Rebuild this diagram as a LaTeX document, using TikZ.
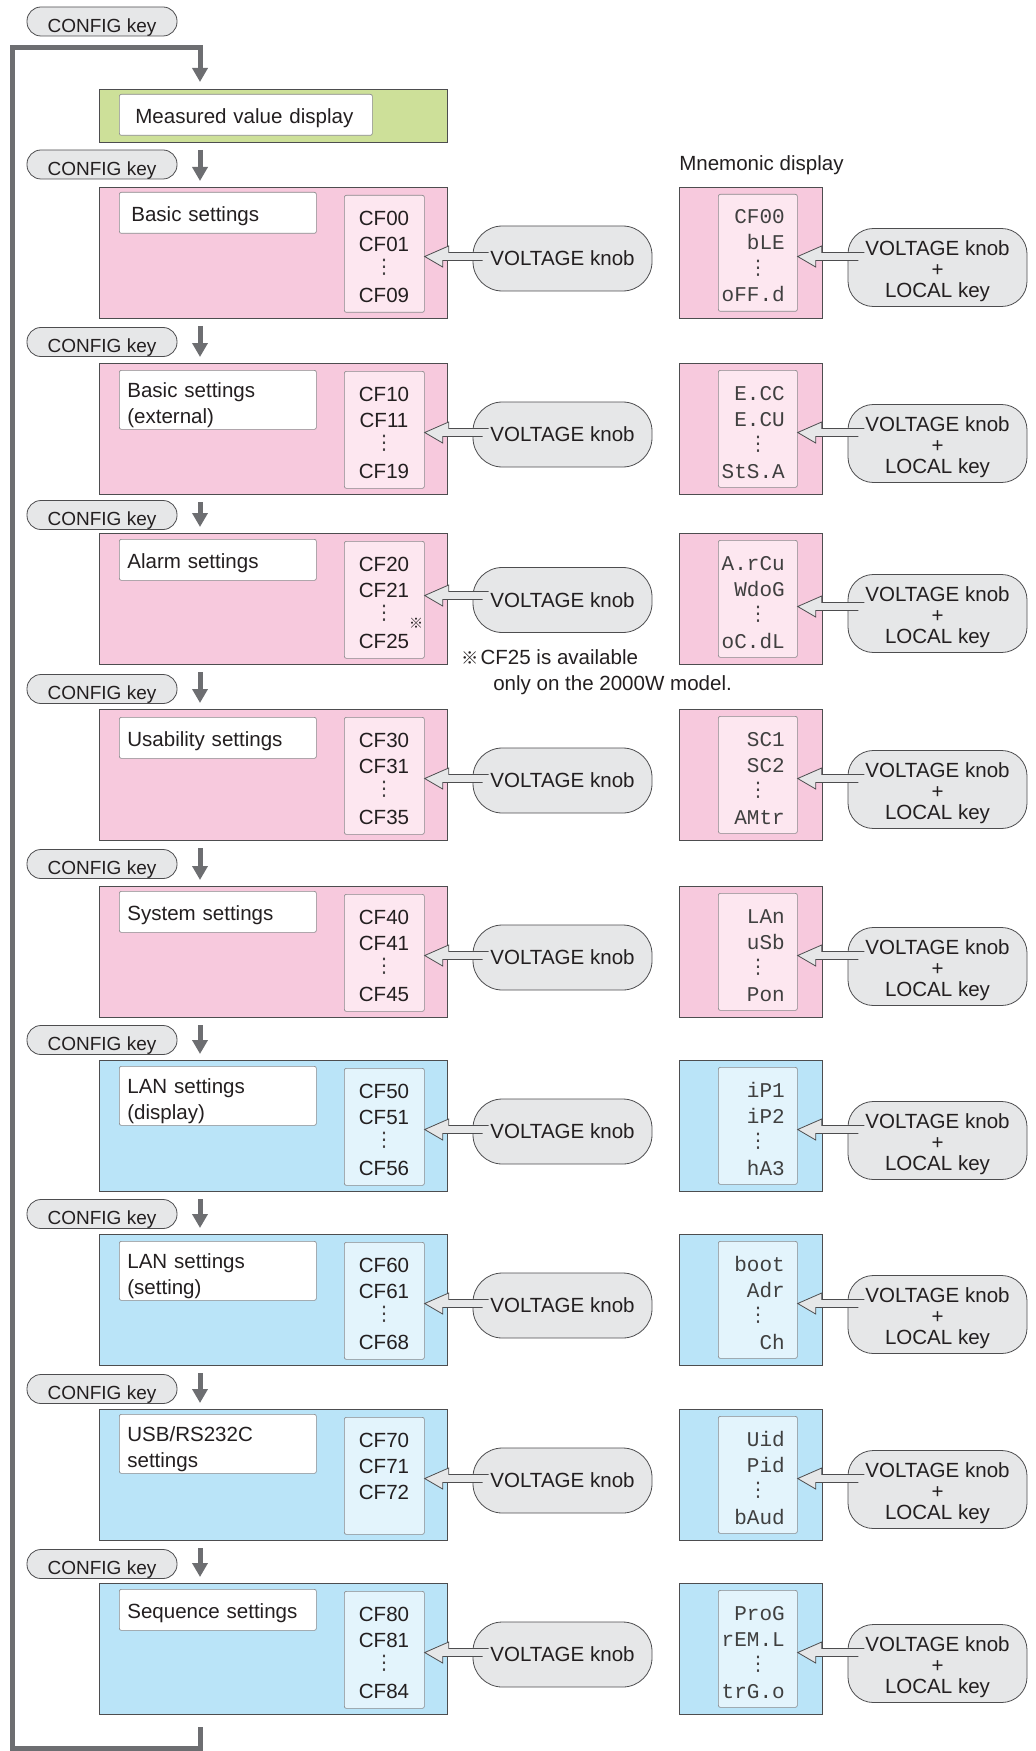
\documentclass[tikz,border=0pt]{standalone}
\usepackage{fontspec}
\setmainfont{Liberation Sans}
\newfontfamily\dejavu{DejaVu Sans}
\newfontfamily\segfont{Liberation Mono}
\newfontfamily\cjkf{Noto Sans CJK JP}
\usetikzlibrary{arrows.meta,calc}
\definecolor{txt}{HTML}{231F20}
\definecolor{linegray}{HTML}{6D6E71}
\definecolor{edge}{HTML}{4D4D4F}
\definecolor{thinedge}{HTML}{8A8A8C}
\definecolor{greenfill}{HTML}{CDE099}
\definecolor{pkmain}{HTML}{F7C9DD}
\definecolor{pklight}{HTML}{FDE7F0}
\definecolor{blmain}{HTML}{BAE4F8}
\definecolor{bllight}{HTML}{E3F4FC}
\definecolor{ovalfill}{HTML}{E6E7E8}
\newcommand\mainfs{\fontsize{15.4pt}{18pt}\selectfont}
\tikzset{
  every node/.style={text=txt, font=\mainfs, inner sep=0pt},
  mainbox/.style={draw=edge, line width=0.75pt, minimum width=261pt, minimum height=98.25pt, anchor=north west},
  greenbox/.style={draw=edge, line width=0.75pt, fill=greenfill, minimum width=261pt, minimum height=39.75pt, anchor=north west},
  titlebox/.style={draw=thinedge, line width=0.5pt, fill=white, rounded corners=1.5pt, anchor=north west, inner xsep=6pt, text width=135.75pt, align=left, minimum height=30.75pt, text height=12.5pt, text depth=0pt},
  titletwo/.style={titlebox, minimum height=44.25pt, font=\fontsize{15.4pt}{19.5pt}\selectfont, text height=15.5pt, text depth=19.5pt},
  cfbox/.style={draw=thinedge, line width=0.5pt, rounded corners=1.5pt, anchor=north west, minimum width=60pt, minimum height=87.75pt},
  mnbox/.style={draw=edge, line width=0.75pt, anchor=north west, minimum width=107.25pt, minimum height=98.25pt},
  mninner/.style={draw=thinedge, line width=0.5pt, rounded corners=1.5pt, anchor=north west, minimum width=59.25pt, minimum height=87.75pt},
  cft/.style={text height=11pt, text depth=0pt},
  dotsn/.style={font=\dejavu\fontsize{15pt}{15pt}\selectfont, text=txt!85},
  segt/.style={anchor=east, font=\segfont\fontsize{15.75pt}{16pt}\selectfont, text=black!75, text height=9pt, text depth=0pt},
  knob/.style={draw=edge, line width=0.6pt, fill=ovalfill, rounded corners=22pt, minimum width=134.25pt, minimum height=48.75pt, text height=11pt, text depth=0pt},
  knobtwo/.style={draw=edge, line width=0.6pt, fill=ovalfill, rounded corners=19pt, minimum width=134.25pt, minimum height=58.5pt, align=center, font=\fontsize{15.4pt}{15.75pt}\selectfont, text height=45.5pt, text depth=0pt},
  cfgkey/.style={draw=edge, line width=0.6pt, fill=ovalfill, rounded corners=10.5pt, minimum width=112.5pt, minimum height=21.75pt, font=\fontsize{14.25pt}{16pt}\selectfont, text height=16.2pt, text depth=0pt},
  downarr/.style={draw=linegray, line width=3.75pt, -{Triangle[width=11.25pt,length=10.5pt]}, shorten <=5.25pt, shorten >=4.5pt},
  loopline/.style={draw=linegray, line width=3.75pt, line join=miter, -{Triangle[width=11.25pt,length=10.5pt]}, shorten >=5.25pt},
  harrowst/.style={draw=edge, line width=0.6pt, fill=ovalfill, line join=miter}
}
\newcommand\harrow[2]{%
  \draw[harrowst] let \p1=(#1), \p2=(#2), \n1={(\x1-\x2)/0.75} in
    ($(\p2)+(\n1,-4)$) -- ++({18-\n1},0) -- ++(0,-6.5) -- (\p2) -- ++(18,10.5) -- ++(0,-6.5) -- ++({\n1-18},0);}
\newcommand\setrow[3]{%
  \node[mainbox, fill=#3main] (r#1) at (99,#2) {};
  \node[cfbox, fill=#3light] (c#1) at (344,#2+8) {};
  \node[mnbox, fill=#3main] (m#1) at (679,#2) {};
  \node[mninner, fill=#3light] (n#1) at (718,#2+7) {};}
\newcommand\cflist[5]{%
  \node[cft] (c#1a) at (384,#2+31) {#3};
  \node[cft] (c#1b) at (384,#2+57) {#4};
  \node[dotsn] (c#1d) at (384,#2+80) {⋮};
  \node[cft] (c#1c) at (384,#2+108) {#5};}
\newcommand\mnlist[5]{%
  \node[segt] (n#1a) at (785,#2+31) {#3};
  \node[segt] (n#1b) at (785,#2+57) {#4};
  \node[dotsn] (n#1d) at (758,#2+81) {⋮};
  \node[segt] (n#1c) at (785,#2+109) {#5};}
\newcommand\knobs[5]{%
  \node[knob] (vk#1) at (562.5,#3) {VOLTAGE knob};
  \node[knobtwo] (lk#1) at (937.5,#5) {VOLTAGE knob\\+\\LOCAL key};
  \coordinate (ka#1) at (0,#2);
  \coordinate (la#1) at (0,#4);
  \harrow{vk#1.west |- ka#1}{c#1.east |- ka#1}
  \harrow{lk#1.west |- la#1}{n#1.east |- la#1}}
\begin{document}
\begin{tikzpicture}[x=0.75pt,y=-0.75pt]
\useasboundingbox (0,0) rectangle (1035,1751);
\coordinate (ax) at (200,0);
% config keys
\node[cfgkey] (cfg0) at (102,21.5) {CONFIG key};
\node[cfgkey] (cfg1) at (102,164.5) {CONFIG key};
\node[cfgkey] (cfg2) at (102,342) {CONFIG key};
\node[cfgkey] (cfg3) at (102,515) {CONFIG key};
\node[cfgkey] (cfg4) at (102,689) {CONFIG key};
\node[cfgkey] (cfg5) at (102,864) {CONFIG key};
\node[cfgkey] (cfg6) at (102,1040) {CONFIG key};
\node[cfgkey] (cfg7) at (102,1214) {CONFIG key};
\node[cfgkey] (cfg8) at (102,1389) {CONFIG key};
\node[cfgkey] (cfg9) at (102,1564) {CONFIG key};
% green box
\node[greenbox] (gr) at (99,89) {};
\node[titlebox, text width=165.75pt, inner xsep=12pt] (gt) at (119,94) {Measured value display};
% rows
\setrow{1}{187}{pk}
\setrow{2}{363}{pk}
\setrow{3}{533}{pk}
\setrow{4}{709}{pk}
\setrow{5}{886}{pk}
\setrow{6}{1060}{bl}
\setrow{7}{1234}{bl}
\setrow{8}{1409}{bl}
\setrow{9}{1583}{bl}
% titles
\node[titlebox, inner xsep=9pt, text width=129.75pt] (t1) at (119,192) {Basic settings};
\node[titletwo] (t2) at (119,370) {Basic settings\\(external)};
\node[titlebox] (t3) at (119,539) {Alarm settings};
\node[titlebox] (t4) at (119,717) {Usability settings};
\node[titlebox] (t5) at (119,891) {System settings};
\node[titletwo] (t6) at (119,1066) {LAN settings\\(display)};
\node[titletwo] (t7) at (119,1241) {LAN settings\\(setting)};
\node[titletwo] (t8) at (119,1414) {USB/RS232C\\settings};
\node[titlebox] (t9) at (119,1589) {Sequence settings};
% CF lists
\cflist{1}{187}{CF00}{CF01}{CF09}
\cflist{2}{363}{CF10}{CF11}{CF19}
\cflist{3}{533}{CF20}{CF21}{CF25\rlap{\smash{\raisebox{14.8pt}{\cjkf\fontsize{10.5pt}{10.5pt}\selectfont ※}}}}
\cflist{4}{709}{CF30}{CF31}{CF35}
\cflist{5}{886}{CF40}{CF41}{CF45}
\cflist{6}{1060}{CF50}{CF51}{CF56}
\cflist{7}{1234}{CF60}{CF61}{CF68}
\node[cft] (c8a) at (384,1440) {CF70};
\node[cft] (c8b) at (384,1466) {CF71};
\node[cft] (c8c) at (384,1492) {CF72};
\cflist{9}{1583}{CF80}{CF81}{CF84}
% mnemonic
\node[cft, anchor=west] (mnl) at (679,163) {Mnemonic display};
\mnlist{1}{187}{CF00}{bLE}{oFF.d}
\mnlist{2}{363}{E.CC}{E.CU}{StS.A}
\mnlist{3}{533}{A.rCu}{WdoG}{oC.dL}
\mnlist{4}{709}{SC1}{SC2}{AMtr}
\mnlist{5}{886}{LAn}{uSb}{Pon}
\mnlist{6}{1060}{iP1}{iP2}{hA3}
\mnlist{7}{1234}{boot}{Adr}{Ch}
\mnlist{8}{1409}{Uid}{Pid}{bAud}
\mnlist{9}{1583}{ProG}{rEM.L}{trG.o}
% knobs and arrows
\knobs{1}{256.5}{258.5}{256.5}{267.5}
\knobs{2}{432.5}{434.5}{432.5}{443.5}
\knobs{3}{595.5}{600}{606.5}{613.5}
\knobs{4}{778.5}{780.5}{778.5}{789.5}
\knobs{5}{955.5}{957.5}{955.5}{966.5}
\knobs{6}{1129.5}{1131.5}{1129.5}{1140.5}
\knobs{7}{1303.5}{1305.5}{1303.5}{1314.5}
\knobs{8}{1478.5}{1480.5}{1478.5}{1489.5}
\knobs{9}{1652.5}{1654.5}{1652.5}{1663.5}
% footnote
\node[cft, anchor=west] (fn1) at (461,657) {{\cjkf\fontsize{13pt}{13pt}\selectfont ※}\hspace{1.5pt}CF25 is available};
\node[cft, anchor=west] (fn2) at (493,683) {only on the 2000W model.};
% down arrows
\draw[downarr] (gr.south -| ax) -- (r1.north -| ax);
\draw[downarr] (r1.south -| ax) -- (r2.north -| ax);
\draw[downarr] (r2.south -| ax) -- (r3.north -| ax);
\draw[downarr] (r3.south -| ax) -- (r4.north -| ax);
\draw[downarr] (r4.south -| ax) -- (r5.north -| ax);
\draw[downarr] (r5.south -| ax) -- (r6.north -| ax);
\draw[downarr] (r6.south -| ax) -- (r7.north -| ax);
\draw[downarr] (r7.south -| ax) -- (r8.north -| ax);
\draw[downarr] (r8.south -| ax) -- (r9.north -| ax);
% loop
\coordinate (loopstart) at (200,1727);
\coordinate (bl) at (12,1748);
\coordinate (tl) at (12,48);
\draw[loopline] (loopstart) |- (bl) -- (tl) -| (gr.north -| ax);
\end{tikzpicture}
\end{document}
